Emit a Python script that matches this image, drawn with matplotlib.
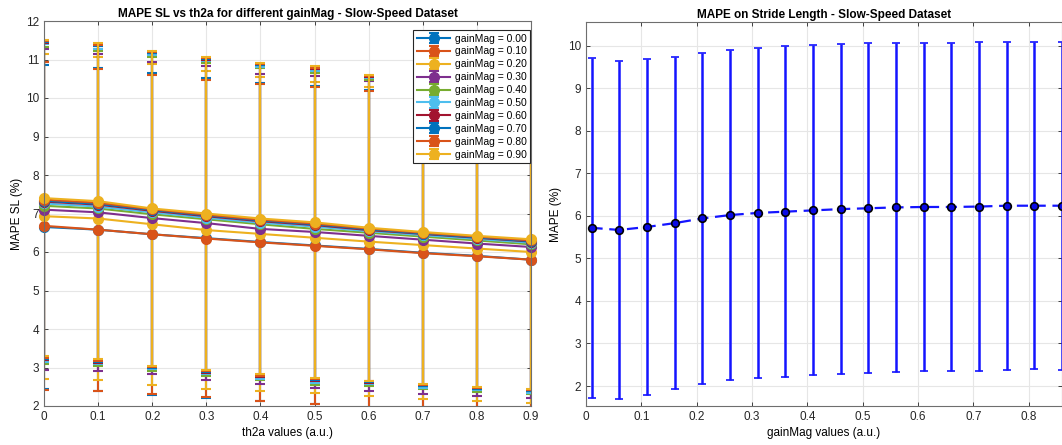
import numpy as np
import matplotlib
matplotlib.use('Agg')
import matplotlib.pyplot as plt

plt.rcParams['font.family'] = ['Liberation Sans', 'DejaVu Sans']

# ---- left panel data: MAPE SL vs th2a for each gainMag ----
th2a = [0.0, 0.1, 0.2, 0.3, 0.4, 0.5, 0.6, 0.7, 0.8, 0.9]
gain_labels = ['0.00', '0.10', '0.20', '0.30', '0.40', '0.50', '0.60', '0.70', '0.80', '0.90']

mape_g00 = [6.65, 6.58, 6.46, 6.36, 6.26, 6.17, 6.08, 5.98, 5.90, 5.80]
mape_g10 = [6.68, 6.58, 6.46, 6.35, 6.25, 6.16, 6.07, 5.97, 5.89, 5.80]
mape_g20 = [6.93, 6.87, 6.72, 6.57, 6.47, 6.37, 6.27, 6.18, 6.09, 6.00]
mape_g30 = [7.10, 7.03, 6.88, 6.75, 6.60, 6.52, 6.42, 6.32, 6.22, 6.13]
mape_g40 = [7.20, 7.13, 6.98, 6.85, 6.72, 6.60, 6.50, 6.40, 6.30, 6.20]
mape_g50 = [7.26, 7.18, 7.03, 6.89, 6.76, 6.66, 6.54, 6.44, 6.34, 6.24]
mape_g60 = [7.31, 7.23, 7.07, 6.93, 6.80, 6.70, 6.57, 6.47, 6.37, 6.27]
mape_g70 = [7.33, 7.25, 7.09, 6.95, 6.82, 6.72, 6.59, 6.48, 6.38, 6.28]
mape_g80 = [7.36, 7.28, 7.11, 6.97, 6.84, 6.74, 6.61, 6.50, 6.40, 6.30]
mape_g90 = [7.40, 7.32, 7.13, 7.00, 6.87, 6.77, 6.63, 6.52, 6.42, 6.33]

err_g00 = [4.21, 4.19, 4.18, 4.15, 4.14, 4.13, 4.14, 4.15, 4.16, 4.18]
err_g10 = [4.26, 4.18, 4.15, 4.12, 4.11, 4.12, 4.12, 4.13, 4.14, 4.15]
err_g20 = [4.22, 4.19, 4.17, 4.12, 4.08, 4.04, 4.02, 3.99, 3.96, 3.93]
err_g30 = [4.16, 4.12, 4.06, 4.07, 4.02, 4.06, 4.03, 4.00, 3.97, 3.93]
err_g40 = [4.12, 4.10, 4.08, 4.06, 4.05, 4.05, 3.98, 3.96, 3.93, 3.89]
err_g50 = [4.13, 4.10, 4.08, 4.06, 4.05, 4.05, 3.98, 3.96, 3.93, 3.89]
err_g60 = [4.12, 4.11, 4.09, 4.06, 4.05, 4.05, 3.97, 3.96, 3.93, 3.89]
err_g70 = [4.12, 4.11, 4.09, 4.06, 4.05, 4.05, 3.97, 3.96, 3.93, 3.88]
err_g80 = [4.11, 4.10, 4.09, 4.06, 4.05, 4.05, 3.97, 3.96, 3.93, 3.88]
err_g90 = [4.11, 4.10, 4.09, 4.06, 4.05, 4.05, 3.97, 3.96, 3.93, 3.88]

# ---- right panel data: MAPE on stride length vs gainMag ----
gain_mag = [0.01, 0.06, 0.11, 0.16, 0.21, 0.26, 0.31, 0.36, 0.41,
            0.46, 0.51, 0.56, 0.61, 0.66, 0.71, 0.76, 0.81, 0.86]
mape_sl = [5.72, 5.67, 5.74, 5.83, 5.94, 6.02, 6.07, 6.10, 6.13,
           6.16, 6.18, 6.20, 6.21, 6.21, 6.22, 6.24, 6.24, 6.24]
err_sl = [4.00, 3.98, 3.94, 3.91, 3.89, 3.88, 3.88, 3.89, 3.88,
          3.88, 3.88, 3.87, 3.86, 3.86, 3.87, 3.86, 3.85, 3.86]

means = [mape_g00, mape_g10, mape_g20, mape_g30, mape_g40,
         mape_g50, mape_g60, mape_g70, mape_g80, mape_g90]
errs = [err_g00, err_g10, err_g20, err_g30, err_g40,
        err_g50, err_g60, err_g70, err_g80, err_g90]

matlab_colors = ['#0072BD', '#D95319', '#EDB120', '#7E2F8E', '#77AC30',
                 '#4DBEEE', '#A2142F']


def style_axes(ax):
    ax.grid(True, color='#e6e6e6', linewidth=0.8)
    ax.set_axisbelow(True)
    ax.tick_params(direction='in', top=True, right=True, labelsize=8.5,
                   colors='#262626', length=3, width=0.6)
    for s in ax.spines.values():
        s.set_color('#6e6e6e')
        s.set_linewidth(0.8)


fig = plt.figure(figsize=(10.62, 4.45), dpi=100)

ax1 = fig.add_axes([44 / 1062, 39 / 445, 487 / 1062, 385 / 445])
for i, (m, e) in enumerate(zip(means, errs)):
    c = matlab_colors[i % len(matlab_colors)]
    eb = ax1.errorbar(th2a, m, yerr=e, color=c, marker='o', markersize=7,
                      linewidth=1.5, elinewidth=1.5, capsize=3.3, capthick=1.5,
                      label='gainMag = ' + gain_labels[i])
    eb[0].set_clip_on(False)
ax1.set_xlim(0, 0.9)
ax1.set_ylim(2, 12)
ax1.set_xticks(th2a)
ax1.set_xticklabels(['0', '0.1', '0.2', '0.3', '0.4', '0.5', '0.6', '0.7', '0.8', '0.9'])
ax1.set_yticks(range(2, 13))
ax1.set_xlabel('th2a values (a.u.)', fontsize=8.5, labelpad=3)
ax1.set_ylabel('MAPE SL (%)', fontsize=8.5, labelpad=2)
ax1.set_title('MAPE SL vs th2a for different gainMag - Slow-Speed Dataset',
              fontsize=8.5, fontweight='bold', pad=3)
style_axes(ax1)
leg = ax1.legend(loc='upper right', fontsize=7.5, fancybox=False,
                 framealpha=1, edgecolor='#262626', borderpad=0.35,
                 labelspacing=0.28, handlelength=3.2, handletextpad=0.4,
                 borderaxespad=0, bbox_to_anchor=(0.998, 0.977))
leg.get_frame().set_linewidth(0.8)

ax2 = fig.add_axes([586 / 1062, 39 / 445, 476 / 1062, 384 / 445])
ax2.errorbar(gain_mag, mape_sl, yerr=err_sl, color='#1414ff', linestyle='--',
             marker='o', markersize=5.5, markerfacecolor='#0a0ae6',
             markeredgecolor='black', markeredgewidth=1.2,
             linewidth=1.6, elinewidth=1.8, capsize=3, capthick=1.8,
             dashes=(5, 3))
ax2.set_xlim(0, 0.86)
ax2.set_ylim(1.53, 10.56)
ax2.set_xticks([0, 0.1, 0.2, 0.3, 0.4, 0.5, 0.6, 0.7, 0.8])
ax2.set_xticklabels(['0', '0.1', '0.2', '0.3', '0.4', '0.5', '0.6', '0.7', '0.8'])
ax2.set_yticks(range(2, 11))
ax2.set_xlabel('gainMag values (a.u.)', fontsize=8.5, labelpad=3)
ax2.set_ylabel('MAPE (%)', fontsize=8.5, labelpad=4)
ax2.set_title('MAPE on Stride Length - Slow-Speed Dataset',
              fontsize=8.5, fontweight='bold', pad=3)
style_axes(ax2)

fig.savefig('out.png', dpi=100)
